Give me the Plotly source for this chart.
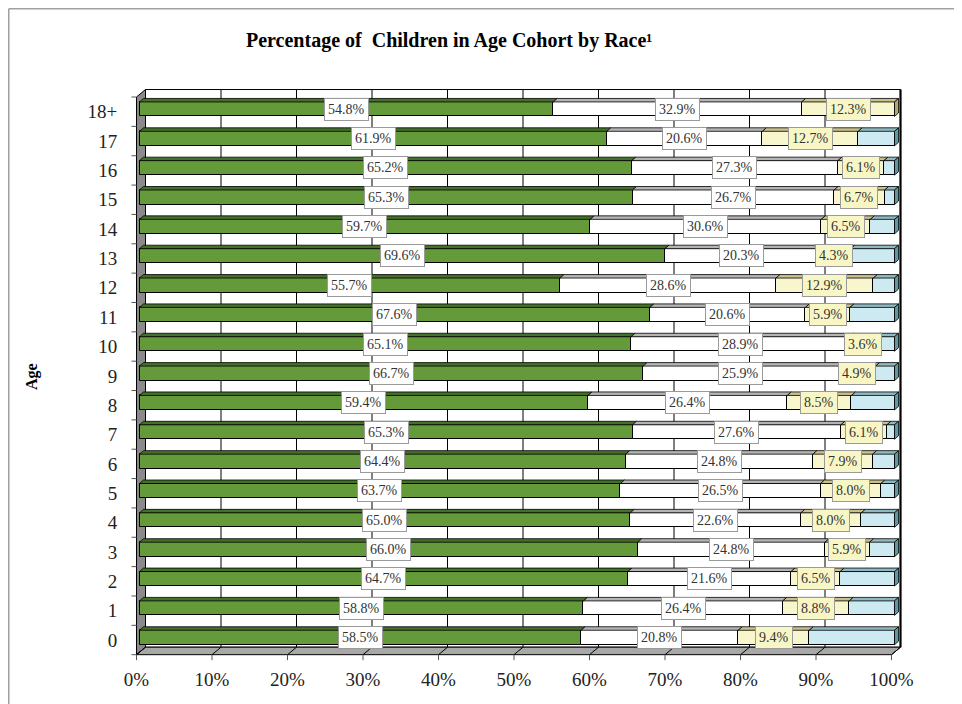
import plotly.graph_objects as go

# ---------------- data (bottom row = age 0) ----------------
ages = ["0", "1", "2", "3", "4", "5", "6", "7", "8", "9",
        "10", "11", "12", "13", "14", "15", "16", "17", "18+"]
green_pct = [58.5, 58.8, 64.7, 66.0, 65.0, 63.7, 64.4, 65.3, 59.4, 66.7,
             65.1, 67.6, 55.7, 69.6, 59.7, 65.3, 65.2, 61.9, 54.8]
white_pct = [20.8, 26.4, 21.6, 24.8, 22.6, 26.5, 24.8, 27.6, 26.4, 25.9,
             28.9, 20.6, 28.6, 20.3, 30.6, 26.7, 27.3, 20.6, 32.9]
yellow_pct = [9.4, 8.8, 6.5, 5.9, 8.0, 8.0, 7.9, 6.1, 8.5, 4.9,
              3.6, 5.9, 12.9, 4.3, 6.5, 6.7, 6.1, 12.7, 12.3]
blue_pct = [11.3, 6.0, 7.2, 3.3, 4.4, 1.8, 2.9, 1.0, 5.7, 2.5,
            2.4, 5.9, 2.8, 5.8, 3.2, 1.3, 1.4, 4.8, 0.0]
x_ticks = [0, 10, 20, 30, 40, 50, 60, 70, 80, 90, 100]
x_ticktext = ["0%", "10%", "20%", "30%", "40%", "50%", "60%", "70%", "80%", "90%", "100%"]
title_text = "Percentage of\u00a0 Children in Age Cohort by Race\u00b9"
y_title = "Age"

# ---------------- geometry (page pixels; page body has an 8px margin) ----------------
OFF = 8
FW, FH = 962 - OFF, 704 - OFF
PAGE_PLOT_L, PAGE_PLOT_R, PAGE_PLOT_T, PAGE_PLOT_B = 128, 903, 85, 661
ML, MT = PAGE_PLOT_L - OFF, PAGE_PLOT_T - OFF
MR, MB = FW - (PAGE_PLOT_R - OFF), FH - (PAGE_PLOT_B - OFF)
PW, PH = FW - ML - MR, FH - MT - MB
PX0, PXS = 136.5, 7.55      # page px of 0%, px per 1%
PY0, PYS = 640.0, 29.35     # page px of row 0 centre, px per row

def dxp(p):
    return p / PXS

def dyp(p):
    return p / PYS

x_range = [(PAGE_PLOT_L - PX0) / PXS, (PAGE_PLOT_R - PX0) / PXS]
y_range = [(PY0 - PAGE_PLOT_B) / PYS, (PY0 - PAGE_PLOT_T) / PYS]

def paper_x(px):
    return (px - PAGE_PLOT_L) / PW

def paper_y(py):
    return (PAGE_PLOT_B - py) / PH

DEPTH_X, DEPTH_Y = dxp(9), dyp(7.5)
BAR_DX, BAR_DY = dxp(4), dyp(3.5)
BAR_SHIFT_X, BAR_SHIFT_Y = dxp(3.0), dyp(2.5)
BAR_W = dyp(14.5)

FONT = "Liberation Serif"
series = [
    (green_pct, "#659a3b", "#45702a", "#3c6324", "#ffffff", True),
    (white_pct, "#ffffff", "#b4b4b4", "#8c8c8c", "#ffffff", True),
    (yellow_pct, "#f8f6cc", "#c9c08c", "#b0a870", "#f9f6c6", True),
    (blue_pct, "#cde9f1", "#8fb9c1", "#5f999f", "#ffffff", False),
]

n = len(ages)
rows = list(range(n))
shapes = []
annotations = []

# back wall
y_lo, y_hi = -0.5, n - 0.5
shapes.append(dict(type="rect", xref="x", yref="y", layer="below",
                   x0=DEPTH_X, x1=100 + DEPTH_X, y0=y_lo + DEPTH_Y, y1=y_hi + DEPTH_Y,
                   fillcolor="white", line=dict(color="black", width=1)))
for t in x_ticks[1:-1]:
    shapes.append(dict(type="line", xref="x", yref="y", layer="below",
                       x0=t + DEPTH_X, x1=t + DEPTH_X, y0=y_lo + DEPTH_Y, y1=y_hi + DEPTH_Y,
                       line=dict(color="black", width=1)))
shapes.append(dict(type="line", xref="x", yref="y", layer="below",
                   x0=100 + DEPTH_X, x1=100 + DEPTH_X, y0=y_lo + DEPTH_Y, y1=y_hi + DEPTH_Y,
                   line=dict(color="black", width=2.2)))
# left wall
shapes.append(dict(type="path", xref="x", yref="y", layer="below",
                   path=f"M0,{y_lo} L0,{y_hi} L{DEPTH_X},{y_hi + DEPTH_Y} L{DEPTH_X},{y_lo + DEPTH_Y} Z",
                   fillcolor="#8a8a8a", line=dict(color="black", width=1)))
# floor
shapes.append(dict(type="path", xref="x", yref="y", layer="below",
                   path=f"M0,{y_lo} L100,{y_lo} L{100 + DEPTH_X},{y_lo + DEPTH_Y} L{DEPTH_X},{y_lo + DEPTH_Y} Z",
                   fillcolor="#a8a8a8", line=dict(color="black", width=1)))
for t in x_ticks:
    shapes.append(dict(type="line", xref="x", yref="y", layer="below",
                       x0=t, x1=t + DEPTH_X, y0=y_lo, y1=y_lo + DEPTH_Y,
                       line=dict(color="black", width=1)))
    shapes.append(dict(type="line", xref="x", yref="y", layer="below",
                       x0=t, x1=t, y0=y_lo, y1=y_lo - dyp(5.5),
                       line=dict(color="#555", width=1)))
for r in range(n + 1):
    yy = r - 0.5
    shapes.append(dict(type="line", xref="x", yref="y", layer="below",
                       x0=0, x1=-dxp(5), y0=yy, y1=yy,
                       line=dict(color="#555", width=1)))

fig = go.Figure()

bases = [0.0] * n
for vals, fill, top, endc, lblbg, show_lbl in series:
    fig.add_trace(go.Bar(
        orientation="h", y=[r + BAR_SHIFT_Y for r in rows], x=vals,
        base=[b + BAR_SHIFT_X for b in bases], width=BAR_W,
        marker=dict(color=fill, line=dict(color="black", width=1)),
        hoverinfo="skip", showlegend=False))
    for r in rows:
        v = vals[r]
        if v <= 0:
            continue
        x0 = bases[r] + BAR_SHIFT_X
        x1 = x0 + v
        yt = r + BAR_SHIFT_Y + BAR_W / 2
        shapes.append(dict(type="path", xref="x", yref="y", layer="above",
                           path=f"M{x0},{yt} L{x0 + BAR_DX},{yt + BAR_DY} L{x1 + BAR_DX},{yt + BAR_DY} L{x1},{yt} Z",
                           fillcolor=top, line=dict(color="black", width=0.8)))
        if show_lbl:
            annotations.append(dict(
                xref="x", yref="y", x=x0 + v / 2, y=r + BAR_SHIFT_Y,
                text=f"{v:.1f}%", showarrow=False,
                font=dict(family=FONT, size=14, color="#333"),
                bgcolor=lblbg, bordercolor="#9a9a9a", borderwidth=1, borderpad=3))
    bases = [b + v for b, v in zip(bases, vals)]

# right end faces of each bar (colour of last visible segment)
for r in rows:
    seg_vals = [s[0][r] for s in series]
    last = max(i for i, v in enumerate(seg_vals) if v > 0)
    endc = series[last][3]
    x1 = bases[r] + BAR_SHIFT_X
    yb = r + BAR_SHIFT_Y - BAR_W / 2
    yt = r + BAR_SHIFT_Y + BAR_W / 2
    shapes.append(dict(type="path", xref="x", yref="y", layer="above",
                       path=f"M{x1},{yb} L{x1},{yt} L{x1 + BAR_DX},{yt + BAR_DY} L{x1 + BAR_DX},{yb + BAR_DY} Z",
                       fillcolor=endc, line=dict(color="black", width=0.8)))

# outer frame (only top & left edges are inside the picture)
frame_x = paper_x(OFF + 0.75)
frame_y = paper_y(OFF + 0.75)
shapes.append(dict(type="line", xref="paper", yref="paper", layer="below",
                   x0=frame_x, x1=paper_x(962), y0=frame_y, y1=frame_y,
                   line=dict(color="#a0a0a0", width=1.5)))
shapes.append(dict(type="line", xref="paper", yref="paper", layer="below",
                   x0=frame_x, x1=frame_x, y0=frame_y, y1=paper_y(704),
                   line=dict(color="#a0a0a0", width=1.5)))

annotations.append(dict(xref="paper", yref="paper", x=paper_x(449), y=paper_y(40),
                        xanchor="center", yanchor="middle",
                        text=f"<b>{title_text}</b>", showarrow=False,
                        font=dict(family=FONT, size=20, color="black")))
annotations.append(dict(xref="paper", yref="paper", x=paper_x(32), y=paper_y(377),
                        xanchor="center", yanchor="middle",
                        text=f"<b>{y_title}</b>", showarrow=False, textangle=-90,
                        font=dict(family=FONT, size=16, color="black")))

fig.update_layout(
    width=FW, height=FH,
    margin=dict(l=ML, r=MR, t=MT, b=MB, autoexpand=False),
    paper_bgcolor="white", plot_bgcolor="white",
    barmode="overlay", bargap=0,
    shapes=shapes, annotations=annotations,
    xaxis=dict(range=x_range, tickvals=x_ticks, ticktext=x_ticktext,
               showgrid=False, zeroline=False, showline=False,
               ticks="", ticklabelstandoff=5,
               tickfont=dict(family=FONT, size=19, color="#222"), automargin=False,
               fixedrange=True),
    yaxis=dict(range=y_range, tickvals=rows, ticktext=ages,
               showgrid=False, zeroline=False, showline=False,
               ticks="outside", ticklen=6, tickcolor="rgba(0,0,0,0)",
               tickfont=dict(family=FONT, size=19, color="#222"), automargin=False,
               fixedrange=True),
)

fig.write_html("out.html")
